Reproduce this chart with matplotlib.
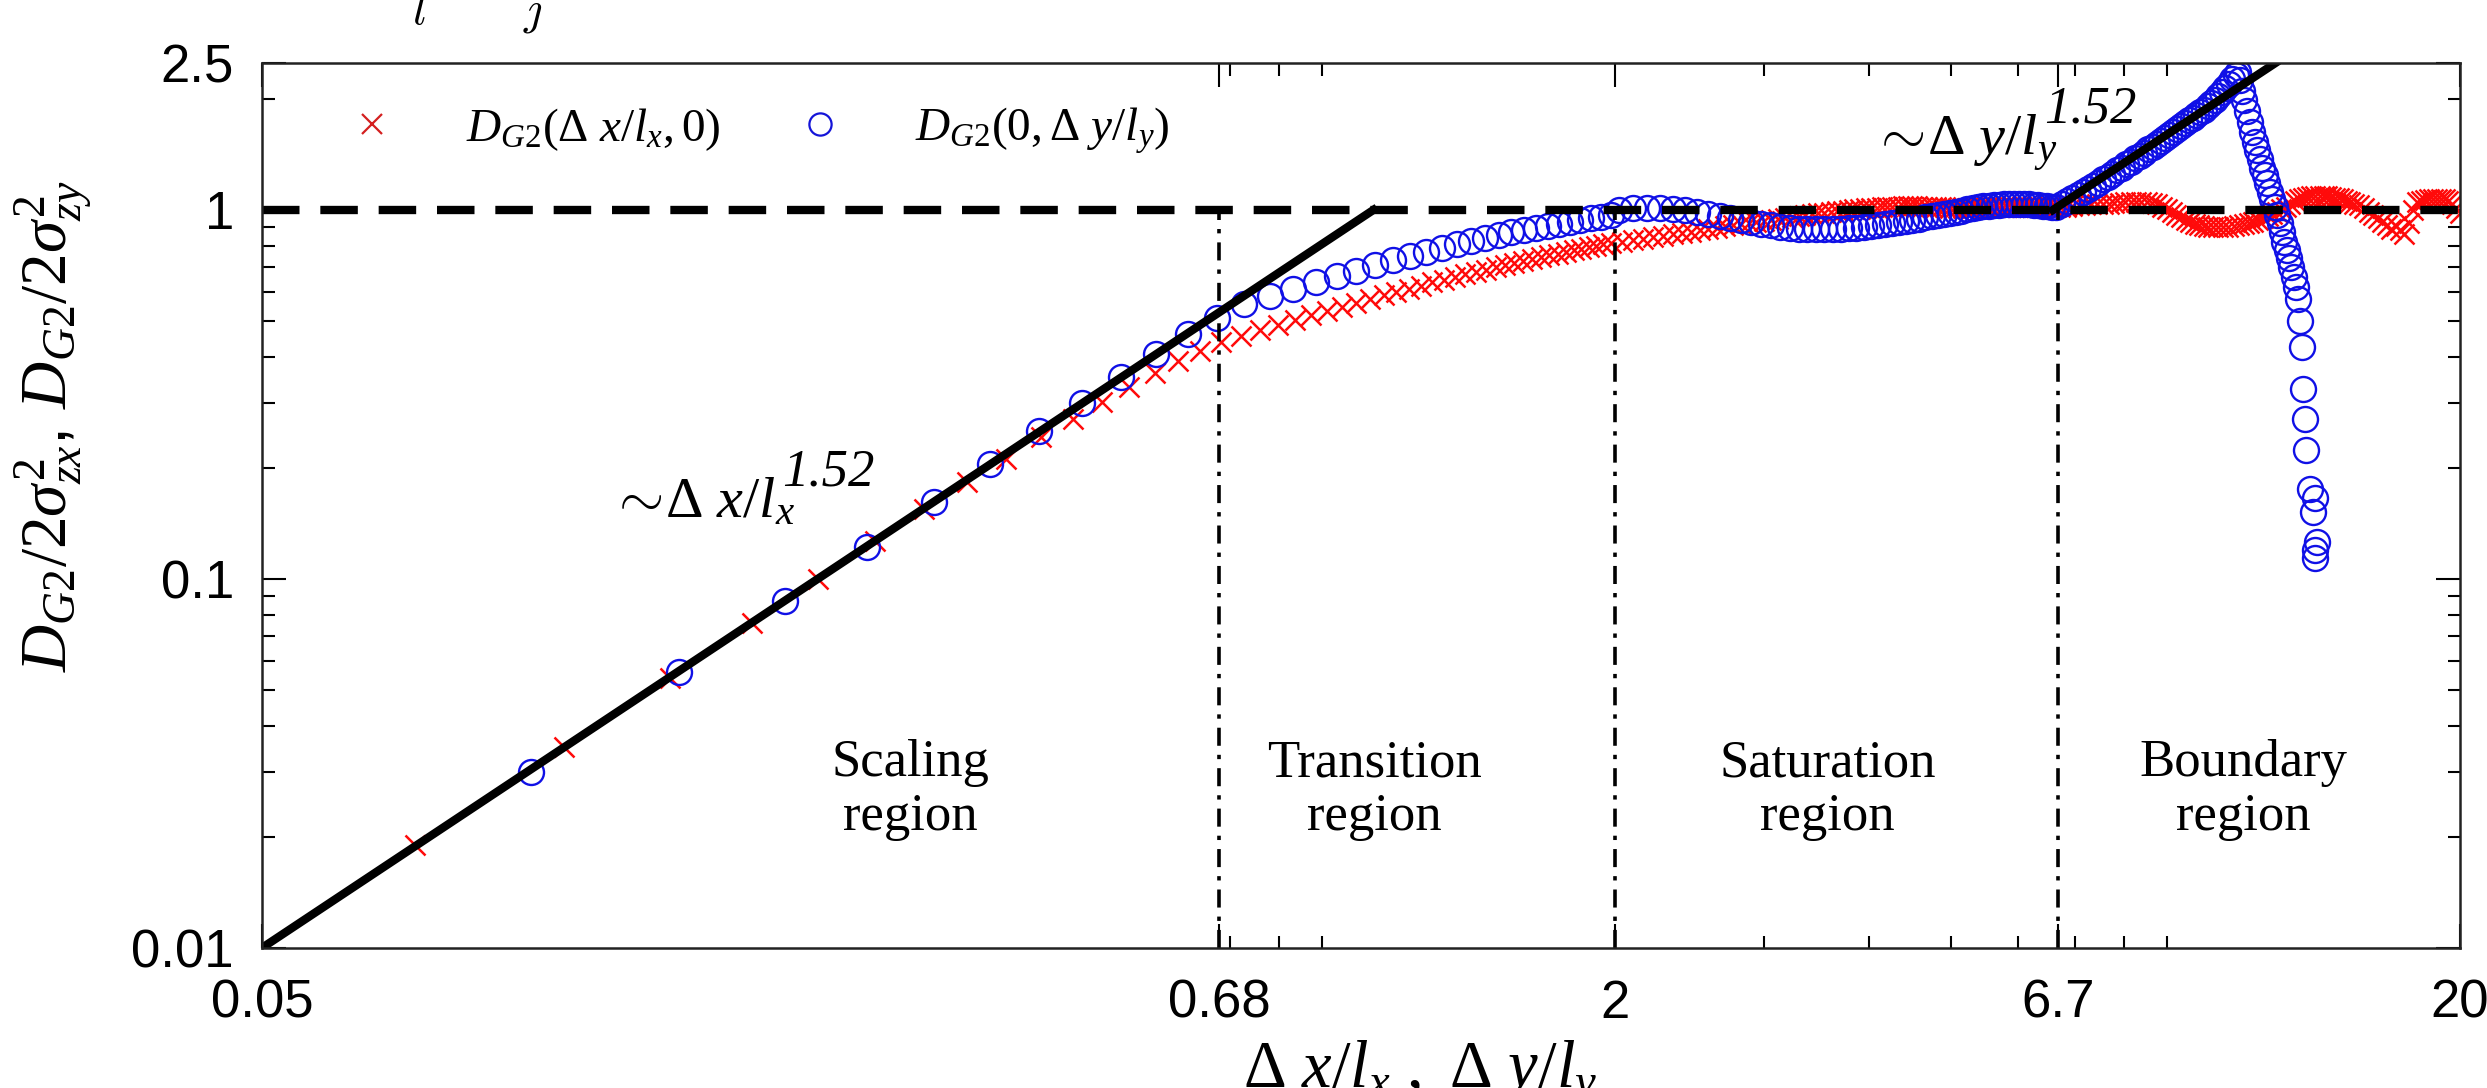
import numpy as np
import matplotlib
matplotlib.use('Agg')
import matplotlib.pyplot as plt
from matplotlib.lines import Line2D

plt.rcParams['font.family'] = ['Liberation Sans', 'DejaVu Sans']
plt.rcParams['mathtext.fontset'] = 'custom'
plt.rcParams['mathtext.rm'] = 'Liberation Serif'
plt.rcParams['mathtext.it'] = 'Liberation Serif:italic'
plt.rcParams['mathtext.bf'] = 'Liberation Serif:bold'

# ---- D_G2(dx/lx, 0) : red crosses ----
red_x_scal = [0.076, 0.114, 0.152, 0.190, 0.228, 0.266, 0.304, 0.342, 0.380, 0.418, 0.456, 0.494,
              0.532, 0.570, 0.608, 0.646, 0.684]
red_y_scal = [0.019, 0.035, 0.054, 0.076, 0.100, 0.127, 0.155, 0.183, 0.212, 0.242, 0.272, 0.302,
              0.332, 0.361, 0.389, 0.414, 0.438]
red_x_trans = [0.722, 0.760, 0.798, 0.836, 0.874, 0.912, 0.950, 0.988, 1.026, 1.064, 1.102, 1.140,
               1.178, 1.216, 1.254, 1.292, 1.330, 1.368, 1.406, 1.444, 1.482, 1.520, 1.558, 1.596,
               1.634, 1.672, 1.710, 1.748, 1.786, 1.824, 1.862, 1.900, 1.938, 1.976]
red_y_trans = [0.455, 0.472, 0.488, 0.503, 0.518, 0.533, 0.547, 0.561, 0.574, 0.587, 0.600, 0.612,
               0.624, 0.636, 0.647, 0.658, 0.669, 0.679, 0.689, 0.699, 0.709, 0.718, 0.727, 0.736,
               0.745, 0.753, 0.761, 0.769, 0.777, 0.785, 0.792, 0.800, 0.807, 0.814]
red_x_sat = [2.04, 2.10, 2.16, 2.22, 2.28, 2.34, 2.40, 2.46, 2.52,
             2.58, 2.64, 2.70, 2.76, 2.82, 2.88, 2.94, 3.00, 3.06,
             3.12, 3.18, 3.24, 3.30, 3.36, 3.42, 3.48, 3.54, 3.60,
             3.66, 3.72, 3.78, 3.84, 3.90, 3.96, 4.02, 4.08, 4.14,
             4.20, 4.26, 4.32, 4.38, 4.44, 4.50, 4.56, 4.62, 4.68,
             4.74, 4.80, 4.86, 4.92, 4.98, 5.04, 5.10, 5.16, 5.22,
             5.28, 5.34, 5.40, 5.46, 5.52, 5.58, 5.64, 5.70, 5.76,
             5.82, 5.88, 5.94, 6.00, 6.06, 6.12, 6.18, 6.24, 6.30,
             6.36, 6.42, 6.48, 6.54, 6.60, 6.66]
red_y_sat = [0.820, 0.828, 0.836, 0.844, 0.852, 0.860, 0.867, 0.874, 0.881,
             0.888, 0.895, 0.902, 0.909, 0.916, 0.923, 0.929, 0.935, 0.941,
             0.947, 0.953, 0.959, 0.964, 0.969, 0.974, 0.979, 0.984, 0.988,
             0.992, 0.996, 1.000, 1.004, 1.007, 1.010, 1.013, 1.015, 1.017,
             1.019, 1.020, 1.021, 1.022, 1.022, 1.022, 1.022, 1.021, 1.020,
             1.019, 1.018, 1.017, 1.016, 1.015, 1.015, 1.015, 1.015, 1.015,
             1.015, 1.016, 1.016, 1.017, 1.017, 1.018, 1.018, 1.019, 1.019,
             1.020, 1.020, 1.020, 1.020, 1.020, 1.020, 1.020, 1.020, 1.020,
             1.020, 1.020, 1.020, 1.020, 1.020, 1.020]
red_x_bnd = [6.72, 6.84, 6.96, 7.08, 7.20, 7.32, 7.44, 7.56, 7.68, 7.80, 7.92, 8.04, 8.16, 8.28,
             8.40, 8.52, 8.64, 8.76, 8.88, 9.00, 9.12, 9.24, 9.36, 9.48, 9.60, 9.72, 9.84, 9.96,
             10.08,
             10.2, 10.35, 10.5, 10.65, 10.8, 10.95, 11.1, 11.25, 11.4, 11.55, 11.7, 11.85, 12.0,
             12.15, 12.3, 12.45, 12.6, 12.75, 12.9, 13.05, 13.2, 13.35, 13.5, 13.65, 13.8, 13.95,
             14.1, 14.25, 14.4, 14.55, 14.7, 14.85, 15.0,
             15.2, 15.4, 15.6, 15.8, 16.0, 16.2, 16.4, 16.6, 16.8, 17.0, 17.2, 17.4, 17.6, 17.8,
             18.0, 18.2, 18.4, 18.6, 18.8, 19.0, 19.2, 19.4, 19.6, 19.8, 20.0]
red_y_bnd = [1.02, 1.02, 1.025, 1.03, 1.03, 1.035, 1.035, 1.04, 1.04, 1.045, 1.045, 1.05, 1.05,
             1.05, 1.05, 1.05, 1.045, 1.035, 1.02, 1.005, 0.99, 0.97, 0.955, 0.94, 0.925, 0.915,
             0.91, 0.905, 0.90,
             0.90, 0.90, 0.90, 0.90, 0.905, 0.91, 0.915, 0.92, 0.93, 0.94, 0.95, 0.96, 0.975,
             0.99, 1.005, 1.02, 1.04, 1.06, 1.07, 1.08, 1.085, 1.09, 1.09, 1.09, 1.09, 1.09,
             1.085, 1.08, 1.075, 1.07, 1.06, 1.05, 1.04,
             1.03, 1.01, 0.99, 0.97, 0.95, 0.93, 0.91, 0.89, 0.905, 0.88, 0.86, 0.92, 1.0, 1.05,
             1.06, 1.065, 1.07, 1.07, 1.07, 1.07, 1.07, 1.06, 1.04, 1.01, 0.98]

# ---- D_G2(0, dy/ly) : blue circles ----
blue_x_scal = [0.104, 0.156, 0.208, 0.260, 0.312, 0.364, 0.416, 0.468, 0.520, 0.572, 0.624, 0.676]
blue_y_scal = [0.030, 0.056, 0.087, 0.122, 0.162, 0.205, 0.251, 0.299, 0.352, 0.406, 0.460, 0.510]
blue_x_trans = [0.728, 0.780, 0.832, 0.884, 0.936, 0.988, 1.040, 1.092, 1.144, 1.196, 1.248,
                1.300, 1.352, 1.404, 1.456, 1.508, 1.560, 1.612, 1.664, 1.716, 1.768, 1.820,
                1.872, 1.924, 1.976]
blue_y_trans = [0.555, 0.583, 0.610, 0.636, 0.661, 0.685, 0.708, 0.730, 0.751, 0.771, 0.790,
                0.808, 0.825, 0.841, 0.856, 0.870, 0.883, 0.895, 0.907, 0.918, 0.929, 0.939,
                0.949, 0.958, 0.967]
blue_x_sat = [2.02, 2.10, 2.18, 2.26, 2.34, 2.42, 2.50, 2.58, 2.66, 2.74,
              2.82, 2.90, 2.98, 3.06, 3.14, 3.22, 3.30, 3.38, 3.46, 3.54,
              3.62, 3.70, 3.78, 3.86, 3.94, 4.02, 4.10, 4.18, 4.26, 4.34,
              4.42, 4.50, 4.58, 4.66, 4.74, 4.82, 4.90, 4.98, 5.06, 5.14,
              5.22, 5.30, 5.38, 5.46, 5.54, 5.62, 5.70, 5.78, 5.86, 5.94,
              6.02, 6.10, 6.18, 6.26, 6.34, 6.42, 6.50, 6.58]
blue_y_sat = [1.000, 1.010, 1.012, 1.012, 1.008, 1.000, 0.990, 0.978, 0.965, 0.952,
              0.940, 0.928, 0.918, 0.909, 0.901, 0.895, 0.890, 0.887, 0.886, 0.886,
              0.887, 0.889, 0.892, 0.896, 0.900, 0.905, 0.910, 0.915, 0.921, 0.927,
              0.933, 0.940, 0.947, 0.954, 0.961, 0.968, 0.975, 0.982, 0.989, 0.996,
              1.003, 1.010, 1.016, 1.022, 1.027, 1.031, 1.034, 1.037, 1.039, 1.040,
              1.040, 1.039, 1.037, 1.034, 1.030, 1.026, 1.022, 1.020]
blue_x_rise = [6.66, 6.76, 6.86, 6.96, 7.06, 7.16, 7.26, 7.36, 7.46, 7.56,
               7.66, 7.76, 7.86, 7.96, 8.06, 8.16, 8.26, 8.36, 8.46, 8.56,
               8.66, 8.76, 8.86, 8.96, 9.06, 9.16, 9.26, 9.36, 9.46, 9.56,
               9.66, 9.76, 9.86, 9.96, 10.06, 10.16, 10.26, 10.36, 10.46, 10.56,
               10.66, 10.76, 10.86, 10.92]
blue_y_rise = [1.02, 1.04, 1.06, 1.08, 1.10, 1.12, 1.14, 1.16, 1.18, 1.21,
               1.23, 1.25, 1.28, 1.30, 1.33, 1.35, 1.38, 1.40, 1.43, 1.46,
               1.48, 1.51, 1.54, 1.57, 1.60, 1.63, 1.66, 1.69, 1.72, 1.75,
               1.78, 1.81, 1.84, 1.87, 1.91, 1.95, 1.99, 2.04, 2.09, 2.14,
               2.20, 2.26, 2.32, 2.36]
blue_x_fall = [11.0, 11.06, 11.12, 11.2, 11.28, 11.36, 11.44, 11.52, 11.6, 11.68, 11.76, 11.84,
               11.92, 12.0, 12.08, 12.16, 12.24, 12.32, 12.4, 12.48, 12.56, 12.64, 12.72, 12.8,
               12.88, 12.94, 13.0, 13.05, 13.12, 13.17, 13.3, 13.49, 13.4, 13.55, 13.49, 13.49]
blue_y_fall = [2.25, 2.1, 1.98, 1.85, 1.73, 1.63, 1.53, 1.45, 1.37, 1.30, 1.24, 1.18,
               1.12, 1.07, 1.02, 0.97, 0.92, 0.87, 0.82, 0.78, 0.74, 0.70, 0.66, 0.62,
               0.575, 0.50, 0.425, 0.327, 0.271, 0.224, 0.175, 0.166, 0.152, 0.126, 0.120, 0.114]

red_x = red_x_scal + red_x_trans + red_x_sat + red_x_bnd
red_y = red_y_scal + red_y_trans + red_y_sat + red_y_bnd
blue_x = blue_x_scal + blue_x_trans + blue_x_sat + blue_x_rise + blue_x_fall
blue_y = blue_y_scal + blue_y_trans + blue_y_sat + blue_y_rise + blue_y_fall

# power-law guide lines (slope 1.52)
fit1_x = [0.05, 1.035]
fit1_y = [0.01, 1.0]
fit2_x = [6.6, 12.1]
fit2_y = [1.0, 2.5]

region_bounds = [0.68, 2, 6.7]
region_names = ['Scaling\nregion', 'Transition\nregion', 'Saturation\nregion', 'Boundary\nregion']
region_x = [0.293, 1.037, 3.57, 11.1]

xticks = [0.05, 0.68, 2, 6.7, 20]
xticklabels = ['0.05', '0.68', '2', '6.7', '20']
xminor = [0.7, 0.8, 0.9, 3, 4, 5, 6, 7, 8, 9]
yticks = [0.01, 0.1, 1, 2.5]
yticklabels = ['0.01', '0.1', '1', '2.5']
yminor = [0.02, 0.03, 0.04, 0.05, 0.06, 0.07, 0.08, 0.09,
          0.2, 0.3, 0.4, 0.5, 0.6, 0.7, 0.8, 0.9, 2]

RED = '#ff0a0a'
BLUE = '#1010e6'

fig = plt.figure(figsize=(24.87, 10.88), dpi=100)
ax = fig.add_axes([0.1053, 0.1287, 0.8837, 0.8133])
ax.set_xscale('log')
ax.set_yscale('log')

ax.plot(red_x, red_y, 'x', color=RED, markersize=14, markeredgewidth=1.8)
ax.plot(blue_x, blue_y, 'o', color=BLUE, markerfacecolor='none', markersize=18,
        markeredgewidth=1.7)

ax.plot(fit1_x, fit1_y, color='black', lw=6)
ax.plot(fit2_x, fit2_y, color='black', lw=6)
ax.axhline(1, color='black', lw=6, dashes=(4.5, 2.5))
for xb in region_bounds:
    ax.plot([xb, xb], [0.01, 1], color='black', lw=2.6, dashes=(5, 2.5, 1.2, 2.5))

for name, xc in zip(region_names, region_x):
    ax.text(xc, 0.0268, name, ha='center', va='center', fontsize=38,
            family='Liberation Serif', linespacing=1.15)

# power-law annotations, superscript drawn at near full size as in the original
ax.text(0.129, 0.147, r'$\sim\!\Delta\ x/l_{x}$', fontsize=42, ha='left', va='baseline')
ax.annotate('1.52', xy=(0.129, 0.147), xytext=(124, 23), textcoords='offset points',
            fontsize=38, family='Liberation Serif', style='italic', va='baseline')
ax.text(4.03, 1.41, r'$\sim\!\Delta\ y/l_{y}$', fontsize=42, ha='left', va='baseline')
ax.annotate('1.52', xy=(4.03, 1.41), xytext=(124, 23), textcoords='offset points',
            fontsize=38, family='Liberation Serif', style='italic', va='baseline')

ax.set_xlim(0.05, 20)
ax.set_ylim(0.01, 2.5)
ax.set_xticks(xticks)
ax.set_xticklabels(xticklabels)
ax.set_xticks(xminor, minor=True)
ax.set_xticklabels([], minor=True)
ax.set_yticks(yticks)
ax.set_yticklabels(yticklabels)
ax.set_yticks(yminor, minor=True)
ax.set_yticklabels([], minor=True)
ax.tick_params(which='both', direction='in', top=True, right=True, width=1.5, labelsize=38)
ax.tick_params(axis='x', which='major', length=17, pad=22)
ax.tick_params(axis='y', which='major', length=17, pad=20)
ax.tick_params(which='minor', length=9)
for s in ax.spines.values():
    s.set_linewidth(1.8)
    s.set_color('#222222')

handles = [Line2D([], [], ls='none', marker='x', color='#d42020', markersize=14, markeredgewidth=1.6),
           Line2D([], [], ls='none', marker='o', color='#1414d8', markerfacecolor='none',
                  markersize=16, markeredgewidth=1.6)]
labels = [r'$D_{G2}(\Delta\ x/l_{x},0)$', r'$D_{G2}(0,\Delta\ y/l_{y})$']
ax.legend(handles, labels, loc='upper left', bbox_to_anchor=(0.02, 1.0), ncol=2, frameon=False,
          fontsize=34, handlelength=1.0, handletextpad=1.5, columnspacing=1.6)

ax.set_ylabel(r"$D_{G2}/2\sigma^{2}_{zx}$, $D_{G2}/2\sigma^{2}_{zy}$", fontsize=47)
ax.yaxis.set_label_coords(-0.076, 0.59)
fig.text(0.571, 0.0, r'$\Delta\ x/l_{x}\ ,\ \Delta\ y/l_{y}$', fontsize=48, ha='center',
         va='baseline')

# clipped remnants of the caption line above the figure
fig.text(419 / 2487, 0.978, r'$l$', fontsize=34, math_fontfamily='cm', ha='center', va='baseline')
fig.text(534 / 2487, 0.978, r'$j$', fontsize=34, math_fontfamily='cm', ha='center', va='baseline')

fig.savefig('out.png', dpi=100)
